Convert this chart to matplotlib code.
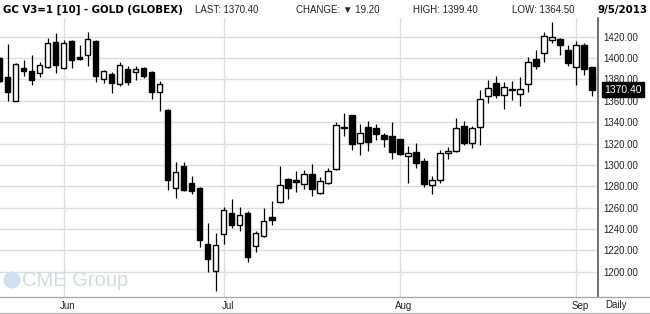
import matplotlib
matplotlib.use("Agg")
import matplotlib.pyplot as plt
import matplotlib.transforms as mtransforms
from matplotlib.lines import Line2D
from matplotlib.patches import Ellipse
import numpy as np
import pandas as pd

# trading days on screen, 21 May - 5 Sep 2013 (exchange holidays removed)
holidays = ["2013-05-27", "2013-07-04", "2013-09-02"]
dates = pd.bdate_range("2013-05-21", "2013-09-05")
dates = dates[~dates.isin(pd.to_datetime(holidays))]

opens = [1399.8, 1382.3, 1360.1, 1390.7, 1387.6, 1385.7, 1391.3, 1415.0,
         1390.4, 1416.0, 1400.7, 1402.6, 1416.3, 1380.1, 1385.1, 1376.0,
         1389.8, 1386.7, 1390.7, 1386.9, 1367.9, 1351.4, 1278.8, 1298.7,
         1282.8, 1278.2, 1225.6, 1200.3, 1235.0, 1254.6, 1243.4, 1254.6,
         1223.8, 1233.1, 1250.9, 1264.9, 1286.5, 1286.0, 1281.8, 1291.2,
         1273.4, 1282.7, 1295.8, 1335.2, 1346.4, 1320.2, 1335.2, 1334.2,
         1327.7, 1326.7, 1323.9, 1308.0, 1311.8, 1303.3, 1280.9, 1285.5,
         1310.8, 1312.7, 1336.1, 1320.2, 1335.2, 1364.2, 1376.4, 1365.1,
         1370.8, 1366.1, 1375.4, 1398.8, 1404.5, 1416.6, 1417.6, 1407.3,
         1391.3, 1411.9, 1391.3]
highs = [1401.0, 1413.2, 1395.1, 1398.5, 1402.9, 1396.0, 1418.5, 1423.5,
         1416.9, 1417.0, 1412.2, 1424.4, 1416.9, 1388.8, 1387.2, 1396.0,
         1392.6, 1392.3, 1391.6, 1387.5, 1378.5, 1352.3, 1302.7, 1302.7,
         1289.4, 1279.0, 1245.3, 1235.9, 1260.3, 1268.0, 1260.3, 1256.5,
         1237.8, 1259.3, 1265.9, 1298.9, 1287.4, 1294.3, 1294.9, 1300.5,
         1288.4, 1296.8, 1339.9, 1348.3, 1347.0, 1338.0, 1340.8, 1338.0,
         1329.6, 1339.9, 1324.5, 1317.8, 1320.2, 1306.1, 1289.3, 1313.6,
         1316.4, 1343.6, 1340.8, 1336.1, 1370.1, 1379.2, 1382.9, 1377.3,
         1378.2, 1382.0, 1400.7, 1407.3, 1424.1, 1433.5, 1418.5, 1411.9,
         1415.7, 1413.8, 1391.5]
lows = [1377.5, 1360.1, 1360.1, 1383.2, 1374.8, 1382.3, 1390.5, 1386.3,
        1389.5, 1390.4, 1397.9, 1392.8, 1377.9, 1376.9, 1367.6, 1374.1,
        1375.1, 1379.5, 1381.6, 1361.9, 1350.4, 1276.7, 1269.4, 1276.0,
        1272.3, 1223.4, 1199.4, 1182.2, 1225.6, 1240.6, 1237.8, 1208.8,
        1218.1, 1232.5, 1243.4, 1264.5, 1267.8, 1274.3, 1277.1, 1270.6,
        1272.8, 1282.2, 1295.3, 1326.7, 1313.6, 1309.0, 1312.7, 1323.0,
        1316.4, 1305.2, 1309.0, 1282.7, 1296.8, 1279.0, 1272.4, 1282.7,
        1305.2, 1312.2, 1318.3, 1315.5, 1318.3, 1357.6, 1362.3, 1352.0,
        1360.5, 1354.8, 1367.9, 1389.5, 1396.0, 1413.8, 1402.6, 1392.3,
        1374.5, 1383.9, 1364.5]
closes = [1378.5, 1368.5, 1394.4, 1388.2, 1379.7, 1393.2, 1413.8, 1393.8,
          1413.8, 1397.9, 1399.4, 1417.6, 1383.5, 1387.6, 1376.9, 1393.5,
          1377.9, 1389.5, 1383.5, 1367.8, 1375.4, 1286.1, 1293.0, 1276.9,
          1275.1, 1230.1, 1211.6, 1224.7, 1257.5, 1243.4, 1252.8, 1213.5,
          1235.9, 1247.2, 1248.1, 1280.9, 1278.1, 1283.7, 1291.2, 1277.1,
          1284.6, 1294.0, 1337.0, 1334.2, 1319.3, 1329.6, 1321.1, 1328.6,
          1323.9, 1311.8, 1309.9, 1310.8, 1301.5, 1281.8, 1285.5, 1310.8,
          1312.7, 1334.2, 1320.2, 1334.2, 1361.4, 1371.7, 1365.1, 1372.6,
          1369.8, 1370.8, 1396.0, 1392.3, 1420.4, 1419.4, 1411.9, 1395.1,
          1411.9, 1389.6, 1370.4]

price_ticks = list(range(1200, 1421, 20))
month_labels = ["Jun", "Jul", "Aug", "Sep"]
header_title = "GC V3=1 [10] - GOLD (GLOBEX)"
header_items = ["LAST: 1370.40", "CHANGE: \u25bc 19.20", "HIGH: 1399.40", "LOW: 1364.50"]
header_date = "9/5/2013"
last_price = closes[-1]

plt.rcParams["font.family"] = ["Liberation Sans", "DejaVu Sans"]

fig = plt.figure(figsize=(6.5, 3.14), dpi=100)
ax = fig.add_axes([0.0, 17 / 314, 597.5 / 650, 279 / 314])

x = np.arange(len(dates))
o = np.array(opens)
h = np.array(highs)
l = np.array(lows)
c = np.array(closes)
up = c >= o

# wicks, then bodies on top so hollow candles hide the wick
ax.vlines(x, l, h, color="black", linewidth=0.9, zorder=2)
body_lo = np.minimum(o, c)
body_h = np.maximum(np.abs(c - o), 0.9)
ax.bar(x[up], body_h[up], bottom=body_lo[up], width=0.68,
       facecolor="white", edgecolor="black", linewidth=1.0, zorder=3)
ax.bar(x[~up], body_h[~up], bottom=body_lo[~up], width=0.68,
       facecolor="black", edgecolor="black", linewidth=1.0, zorder=3)

ax.set_xlim(0.04, 74.7)
ax.set_ylim(1176.3, 1437.5)

# month starts
month_pos = [int(np.argmax(dates.month == m)) for m in (6, 7, 8, 9)]
ax.set_xticks(month_pos)
ax.set_xticklabels(month_labels, fontsize=7, color="#222222")
ax.tick_params(axis="x", length=0, pad=3)
shift = mtransforms.ScaledTranslation(4 / 100, 0, fig.dpi_scale_trans)
for lab in ax.get_xticklabels():
    lab.set_transform(lab.get_transform() + shift)

ax.yaxis.tick_right()
ax.set_yticks(price_ticks)
ax.set_yticklabels([f"{p:.2f}" for p in price_ticks], fontsize=7, color="#222222")
ax.tick_params(axis="y", length=0, pad=4)

ax.grid(True, color="#dddddd", linewidth=1.0, zorder=0)
ax.set_axisbelow(True)

for side in ("left", "top", "bottom"):
    ax.spines[side].set_visible(False)
ax.spines["right"].set_color("#555555")
ax.spines["right"].set_linewidth(1.2)

# last price marker on the axis
trans = mtransforms.blended_transform_factory(ax.transAxes, ax.transData)
ax.text(1.012, last_price, f"{last_price:.2f}", transform=trans, fontsize=7.5,
        color="white", va="center", ha="left", zorder=5,
        bbox=dict(boxstyle="square,pad=0.22", facecolor="black", edgecolor="black"))

# frame lines under the plot
fig.add_artist(Line2D([0, 1], [17 / 314, 17 / 314], color="#aaaaaa", linewidth=1.0))
fig.add_artist(Line2D([0, 1], [1.5 / 314, 1.5 / 314], color="#bbbbbb", linewidth=1.0))
fig.text(605 / 650, 9 / 314, "Daily", fontsize=7, color="#222222", va="center")

# watermark
fig.add_artist(Ellipse((12 / 650, 34 / 314), 17 / 650, 17 / 314, transform=fig.transFigure,
                       facecolor="#cfe0ee", edgecolor="none"))
fig.text(22 / 650, 34 / 314, "CME Group", fontsize=14.5, color="#d4d9de", va="center")

# header
hy = 1 - 10 / 314
title_font = dict(family=["DejaVu Sans", "Liberation Sans"], fontstretch="condensed",
                  fontweight="bold", fontsize=8.2, va="center")
fig.text(3 / 650, hy, header_title, **title_font)
for xp, txt in zip([195, 296, 413, 512], header_items):
    fig.text(xp / 650, hy, txt, fontsize=7, color="#222222", va="center")
fig.text(647 / 650, hy, header_date, ha="right", **title_font)

fig.savefig("out.png", dpi=100)
